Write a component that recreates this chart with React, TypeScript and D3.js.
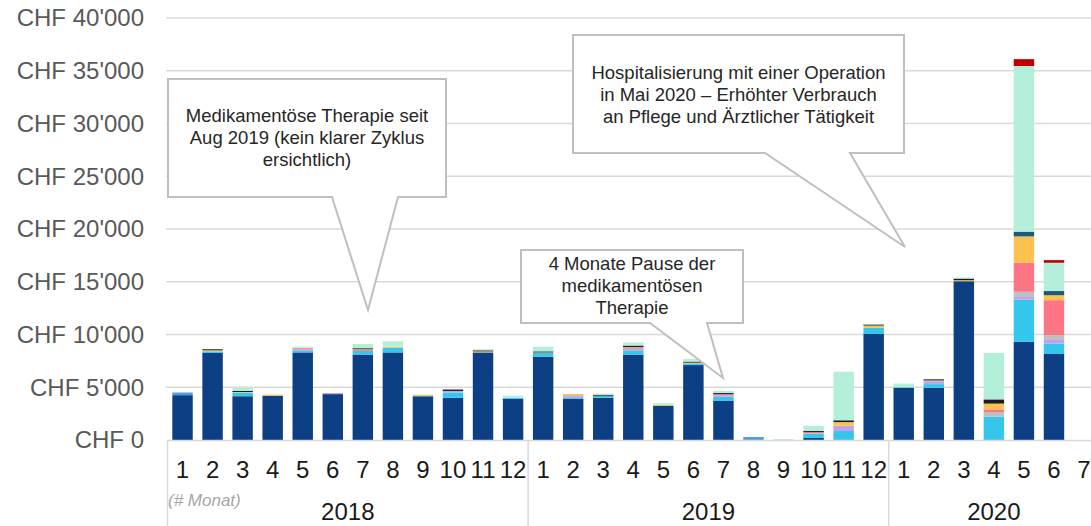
import React, { useEffect, useRef } from 'react';
import * as d3 from 'd3';

const yearLabels = ['2018', '2019', '2020'];
const monthsPerYear = [12, 12, 7];
const monthLabels = [
    '1', '2', '3', '4', '5', '6', '7', '8', '9', '10', '11', '12',
    '1', '2', '3', '4', '5', '6', '7', '8', '9', '10', '11', '12',
    '1', '2', '3', '4', '5', '6', '7',
];
const yTicks = [0, 5000, 10000, 15000, 20000, 25000, 30000, 35000, 40000];

// cost categories, bottom to top of each stack
const seriesKeys = [
    'Medikamente', 'Analysen', 'Labor', 'Physiotherapie', 'Mittel',
    'Pflege', 'Ärztliche Tätigkeit', 'Diverses', 'Material', 'Spital', 'Notfall',
];
const seriesColors = [
    '#0c3f84', '#4f9be0', '#35c6ec', '#c39ff2', '#bfbfbf',
    '#fb7585', '#fdc150', '#1c1c1c', '#1b5a78', '#b4efda', '#c00000',
];

const medikamente = [
    4250, 8250, 4150, 4200, 8300, 4350, 8100, 8300, 4150, 4000, 8300, 3900,
    7900, 3900, 4000, 8100, 3250, 7100, 3700, 0, 0, 200, 0, 10050,
    4950, 4950, 15050, 0, 9300, 8150, 0,
];
const analysen = [
    250, 0, 0, 0, 0, 0, 0, 0, 0, 0, 0, 0,
    0, 0, 0, 0, 0, 0, 0, 280, 0, 0, 0, 0,
    0, 0, 0, 0, 0, 0, 0,
];
const labor = [
    0, 150, 350, 0, 200, 0, 350, 450, 0, 500, 0, 100,
    350, 150, 150, 400, 0, 150, 400, 0, 0, 400, 850, 600,
    50, 350, 0, 2200, 4000, 1000, 0,
];
const physio = [
    0, 0, 0, 0, 100, 100, 0, 0, 0, 150, 0, 0,
    0, 100, 0, 150, 0, 0, 150, 0, 0, 0, 500, 0,
    0, 200, 0, 0, 250, 330, 0,
];
const mittel = [
    0, 0, 0, 0, 0, 0, 0, 0, 0, 0, 0, 0,
    0, 0, 0, 0, 0, 0, 0, 0, 0, 50, 0, 0,
    0, 150, 0, 450, 500, 470, 0,
];
const pflege = [
    0, 0, 0, 0, 100, 0, 100, 0, 0, 0, 0, 0,
    0, 80, 0, 100, 0, 0, 100, 0, 0, 100, 0, 0,
    0, 0, 0, 250, 2750, 3300, 0,
];
const aerztlich = [
    0, 100, 50, 100, 50, 0, 50, 100, 100, 0, 100, 0,
    50, 130, 0, 50, 80, 80, 0, 0, 0, 0, 350, 200,
    0, 0, 100, 550, 2500, 470, 0,
];
const diverses = [
    0, 100, 100, 0, 0, 0, 100, 0, 0, 150, 100, 0,
    100, 0, 100, 150, 0, 100, 100, 0, 0, 100, 170, 100,
    0, 100, 150, 400, 0, 0, 0,
];
const material = [
    0, 0, 0, 0, 0, 0, 0, 0, 0, 0, 0, 0,
    0, 0, 0, 0, 0, 0, 0, 0, 0, 0, 0, 0,
    0, 0, 0, 0, 450, 400, 0,
];
const spital = [
    0, 0, 300, 0, 100, 0, 400, 500, 80, 50, 100, 200,
    450, 0, 150, 300, 150, 250, 200, 0, 80, 500, 4600, 50,
    350, 0, 100, 4400, 15700, 2680, 0,
];
const notfall = [
    0, 0, 0, 0, 0, 0, 0, 0, 0, 0, 0, 0,
    0, 0, 0, 0, 0, 0, 0, 0, 0, 0, 0, 0,
    0, 0, 0, 0, 650, 250, 0,
];

const seriesValues = [
    medikamente, analysen, labor, physio, mittel,
    pflege, aerztlich, diverses, material, spital, notfall,
];

const callouts = [
    {
        lines: ['Medikamentöse Therapie seit', 'Aug 2019 (kein klarer Zyklus', 'ersichtlich)'],
        box: [168, 79, 446, 197],
        base: [332, 398],
        tip: [368, 310],
        textY: 122,
    },
    {
        lines: ['4 Monate Pause der', 'medikamentösen', 'Therapie'],
        box: [521, 250, 743, 323],
        base: [650, 707],
        tip: [723, 378],
        textY: 270,
    },
    {
        lines: [
            'Hospitalisierung mit einer Operation',
            'in Mai 2020 – Erhöhter Verbrauch',
            'an Pflege und Ärztlicher Tätigkeit',
        ],
        box: [573, 35, 904, 153],
        base: [765, 850],
        tip: [905, 247],
        textY: 79,
    },
];

const width = 1091;
const height = 526;
const font = '"Liberation Sans", Arial, sans-serif';

const chfLocale = d3.formatLocale({
    decimal: '.',
    thousands: "'",
    grouping: [3],
    currency: ['CHF ', ''],
});
const formatChf = chfLocale.format('$,.0f');

const App: React.FC = () => {
    const svgRef = useRef<SVGSVGElement | null>(null);

    useEffect(() => {
        if (svgRef.current) {
            drawChart();
        }
    }, []);

    const drawChart = () => {
        const svg = d3.select(svgRef.current);
        svg.selectAll('*').remove();

        const left = 167.5;
        const step = 30.05;
        const n = monthLabels.length;

        const x = d3
            .scaleBand<number>()
            .domain(d3.range(n))
            .range([left, left + n * step])
            .paddingInner(0.32)
            .paddingOuter(0.16);

        const y = d3.scaleLinear().domain([0, 40000]).range([440, 18]);

        // gridlines + y labels
        svg.append('g')
            .selectAll('line')
            .data(yTicks.filter((t) => t > 0))
            .enter()
            .append('line')
            .attr('x1', 166)
            .attr('x2', width)
            .attr('y1', (d) => y(d))
            .attr('y2', (d) => y(d))
            .attr('stroke', '#d9d9d9')
            .attr('stroke-width', 1.5);

        svg.append('g')
            .selectAll('text')
            .data(yTicks)
            .enter()
            .append('text')
            .attr('x', 144)
            .attr('y', (d) => y(d))
            .attr('dy', '0.35em')
            .attr('text-anchor', 'end')
            .style('font-family', font)
            .style('font-size', '24px')
            .style('fill', '#595959')
            .text((d) => formatChf(d));

        // stacked bars
        const rows = monthLabels.map((_, i) => {
            const row: Record<string, number> = { idx: i };
            seriesKeys.forEach((k, s) => {
                row[k] = seriesValues[s][i];
            });
            return row;
        });

        const stacked = d3.stack<Record<string, number>>().keys(seriesKeys)(rows);

        svg.append('g')
            .selectAll('g')
            .data(stacked)
            .enter()
            .append('g')
            .attr('fill', (_, i) => seriesColors[i])
            .selectAll('rect')
            .data((d) => d.filter((p) => p[1] - p[0] > 0))
            .enter()
            .append('rect')
            .attr('x', (d) => x(d.data.idx) as number)
            .attr('width', x.bandwidth())
            .attr('y', (d) => y(d[1]))
            .attr('height', (d) => y(d[0]) - y(d[1]));

        // x axis
        svg.append('line')
            .attr('x1', left)
            .attr('x2', width)
            .attr('y1', 440.5)
            .attr('y2', 440.5)
            .attr('stroke', '#d9d9d9')
            .attr('stroke-width', 1.5);

        svg.append('g')
            .selectAll('text')
            .data(monthLabels)
            .enter()
            .append('text')
            .attr('x', (_, i) => (x(i) as number) + x.bandwidth() / 2)
            .attr('y', 478)
            .attr('text-anchor', 'middle')
            .style('font-family', font)
            .style('font-size', '24px')
            .style('fill', '#1a1a1a')
            .text((d) => d);

        const starts = d3.cumsum([0, ...monthsPerYear]);
        const bounds = Array.from(starts).map((s) => left + s * step);

        svg.append('g')
            .selectAll('line')
            .data(bounds.slice(0, 3))
            .enter()
            .append('line')
            .attr('x1', (d) => d)
            .attr('x2', (d) => d)
            .attr('y1', 440)
            .attr('y2', height)
            .attr('stroke', '#d9d9d9')
            .attr('stroke-width', 1.5);

        svg.append('g')
            .selectAll('text')
            .data(yearLabels)
            .enter()
            .append('text')
            .attr('x', (_, i) => (bounds[i] + bounds[i + 1]) / 2)
            .attr('y', 520)
            .attr('text-anchor', 'middle')
            .style('font-family', font)
            .style('font-size', '24px')
            .style('fill', '#1a1a1a')
            .text((d) => d);

        svg.append('text')
            .attr('x', 168)
            .attr('y', 506)
            .style('font-family', font)
            .style('font-size', '17px')
            .style('font-style', 'italic')
            .style('fill', '#a6a6a6')
            .text('(# Monat)');

        // speech-bubble annotations
        const notes = svg
            .append('g')
            .selectAll('g')
            .data(callouts)
            .enter()
            .append('g');

        notes
            .append('path')
            .attr('d', (c) => {
                const [x0, y0, x1, y1] = c.box;
                const path = d3.path();
                path.moveTo(x0, y0);
                path.lineTo(x1, y0);
                path.lineTo(x1, y1);
                path.lineTo(c.base[1], y1);
                path.lineTo(c.tip[0], c.tip[1]);
                path.lineTo(c.base[0], y1);
                path.lineTo(x0, y1);
                path.closePath();
                return path.toString();
            })
            .attr('fill', '#fff')
            .attr('stroke', '#bfbfbf')
            .attr('stroke-width', 2);

        notes.each(function (c) {
            const cx = (c.box[0] + c.box[2]) / 2;
            d3.select(this)
                .selectAll('text')
                .data(c.lines)
                .enter()
                .append('text')
                .attr('x', cx)
                .attr('y', (_, i) => c.textY + i * 22)
                .attr('text-anchor', 'middle')
                .style('font-family', font)
                .style('font-size', '18.5px')
                .style('fill', '#262626')
                .text((d) => d);
        });
    };

    return (
        <svg
            ref={svgRef}
            width={width}
            height={height}
            style={{ position: 'absolute', left: 0, top: 0, background: '#fff' }}
        ></svg>
    );
};

export default App;
